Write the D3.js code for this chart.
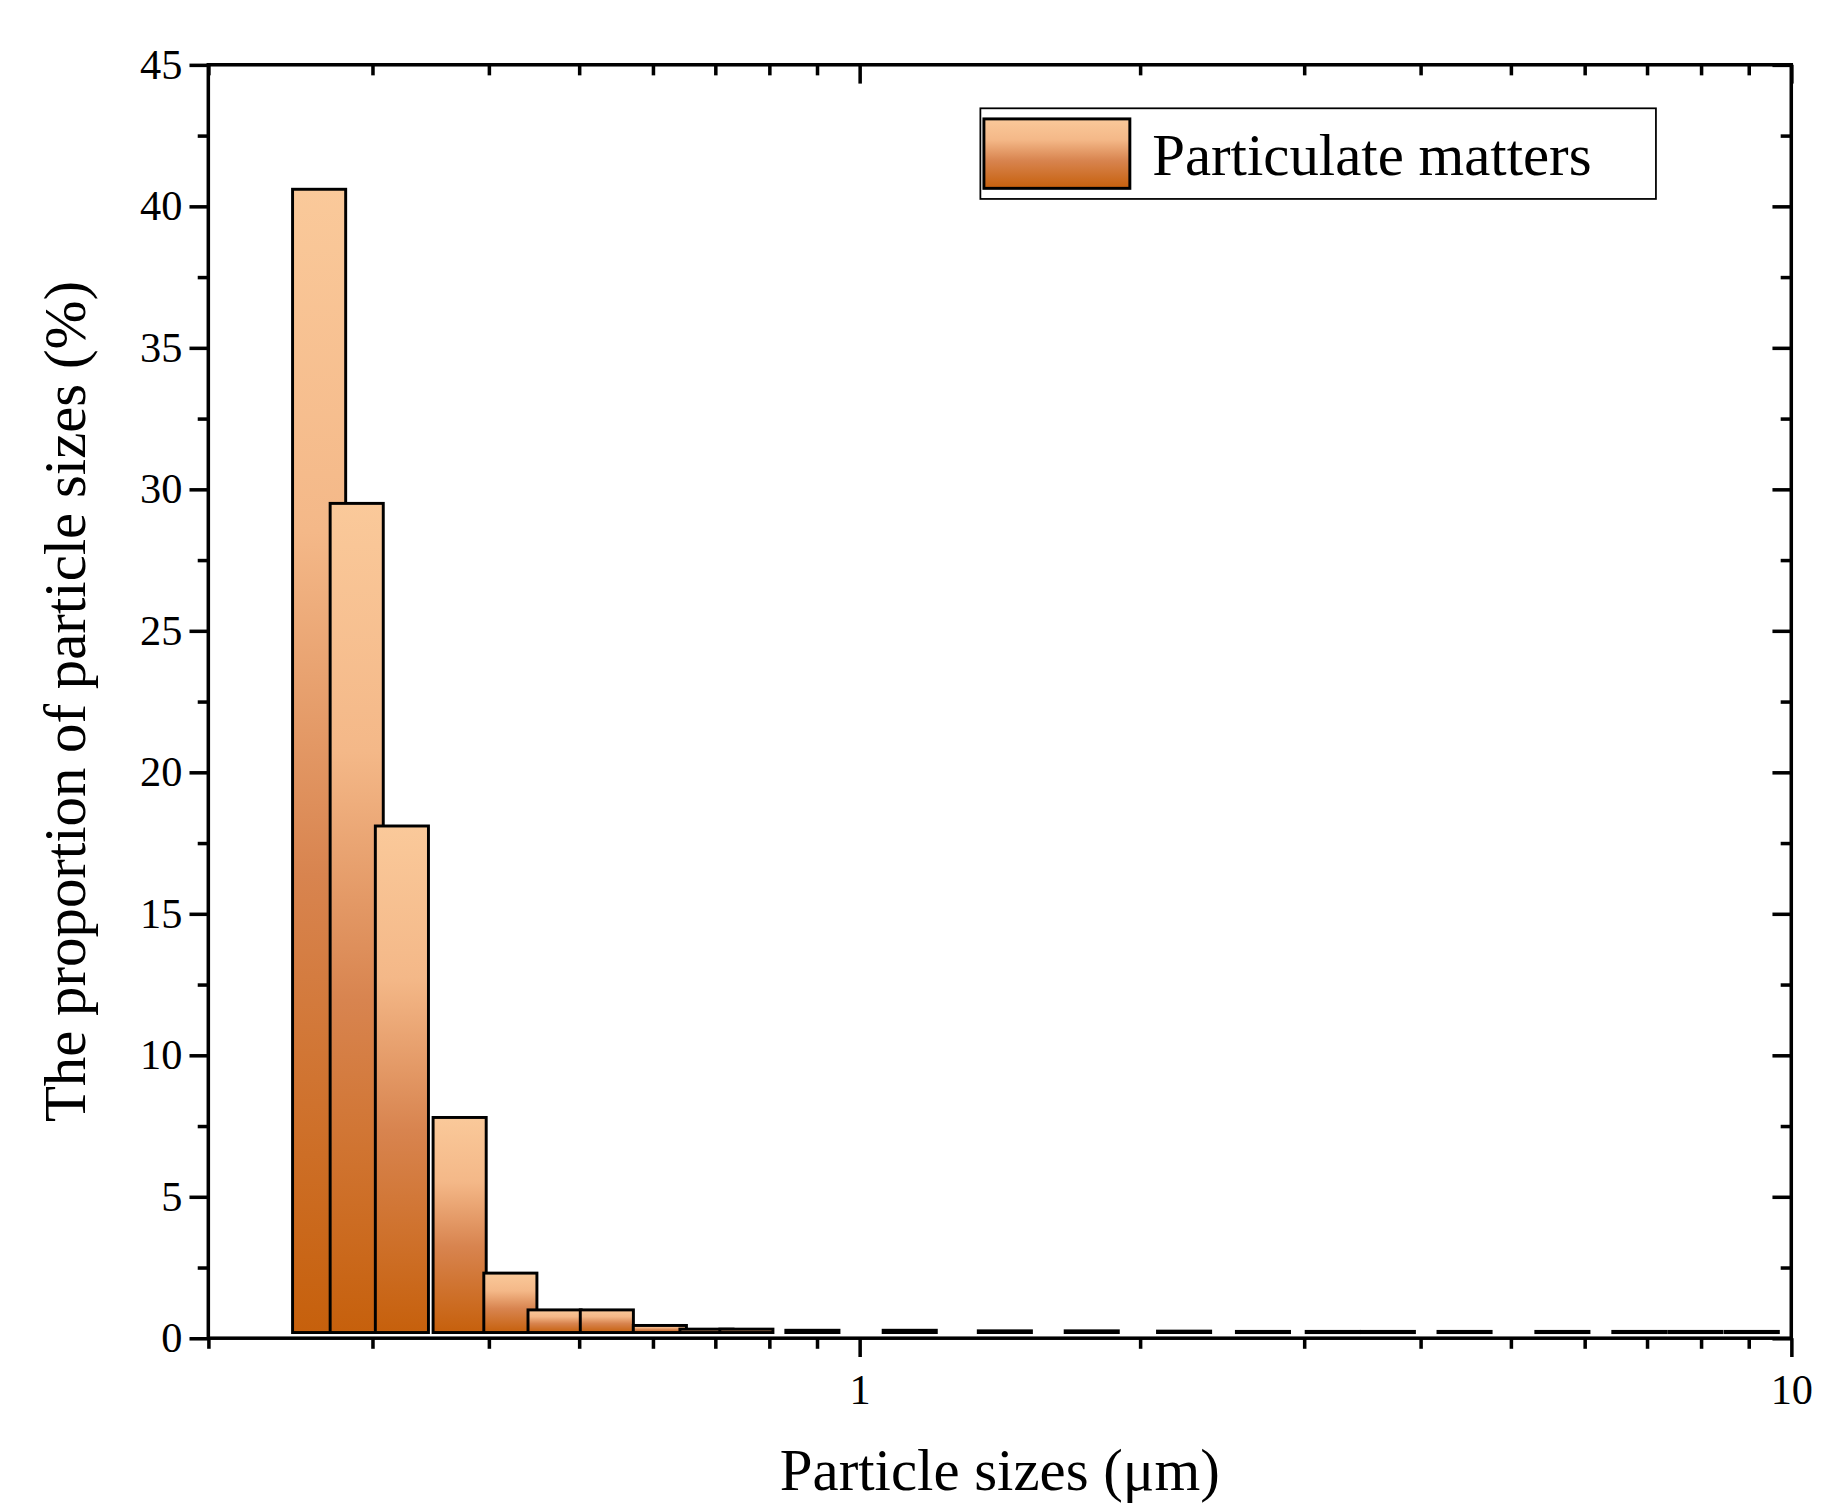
<!DOCTYPE html>
<html><head><meta charset="utf-8">
<script src="https://cdn.jsdelivr.net/npm/d3@7"></script>
<style>body{margin:0;background:#fff}svg{display:block}</style>
</head><body>
<svg id="c" width="1836" height="1503" viewBox="0 0 1560 1277"></svg>
<script>
const sizes = [0.263,0.2886,0.3227,0.3722,0.4219,0.4706,0.5355,0.6105,0.685,0.756,0.890,1.132,1.432,1.775,2.23,2.71,3.22,3.69,4.46,5.68,6.87,7.89,9.07];
const values = [40.4,29.3,17.9,7.6,2.1,0.8,0.8,0.25,0.12,0.12,0.08,0.08,0.06,0.06,0.05,0.04,0.04,0.04,0.04,0.04,0.04,0.04,0.04];
const yTicks = [0,5,10,15,20,25,30,35,40,45];
const xTicks = [1,10];
const seriesName = "Particulate matters";

const svg = d3.select("#c");
const L=177,R=1522,T=55,B=1137;
const x = d3.scaleLog().domain([0.2,10]).range([L,R]);
const y = d3.scaleLinear().domain([0,45]).range([B,T]);
const base = 0.2, halfW = 0.0285;
const defs = svg.append("defs");
const g = defs.append("linearGradient").attr("id","gr").attr("x1",0).attr("y1",0).attr("x2",0).attr("y2",1);
g.append("stop").attr("offset","0%").attr("stop-color","#fac99a");
g.append("stop").attr("offset","30%").attr("stop-color","#f4b888");
g.append("stop").attr("offset","60%").attr("stop-color","#d8844f");
g.append("stop").attr("offset","100%").attr("stop-color","#c6600c");

svg.append("g").selectAll("rect").data(sizes).join("rect")
  .attr("x",d=>x(d*Math.pow(10,-halfW)))
  .attr("width",d=>x(d*Math.pow(10,halfW))-x(d*Math.pow(10,-halfW)))
  .attr("y",(d,i)=>y(values[i]+base))
  .attr("height",(d,i)=>Math.max(1,y(base)-y(values[i]+base)))
  .attr("fill","url(#gr)").attr("stroke","#000").attr("stroke-width",2.5);

const font="'Liberation Serif','Times New Roman',serif";
// frame
svg.append("rect").attr("x",L).attr("y",T).attr("width",R-L).attr("height",B-T).attr("fill","none").attr("stroke","#000").attr("stroke-width",3);
const minorX = [0.2,0.3,0.4,0.5,0.6,0.7,0.8,0.9,2,3,4,5,6,7,8,9];
function styleAxis(sel){sel.select(".domain").remove();sel.selectAll("line").attr("stroke","#000").attr("stroke-width",3);sel.selectAll("text").attr("font-family",font).attr("font-size",36).attr("fill","#000");}
// bottom
svg.append("g").attr("transform",`translate(0,${B})`).call(d3.axisBottom(x).tickValues(xTicks).tickFormat(d3.format("d")).tickSize(16).tickPadding(14)).call(styleAxis);
svg.append("g").attr("transform",`translate(0,${B})`).call(d3.axisBottom(x).tickValues(minorX).tickFormat("").tickSize(9)).call(styleAxis);
// top
svg.append("g").attr("transform",`translate(0,${T})`).call(d3.axisBottom(x).tickValues(xTicks).tickFormat("").tickSize(16)).call(styleAxis);
svg.append("g").attr("transform",`translate(0,${T})`).call(d3.axisBottom(x).tickValues(minorX).tickFormat("").tickSize(9)).call(styleAxis);
// left
const minorY = d3.range(2.5,45,5);
svg.append("g").attr("transform",`translate(${L},0)`).call(d3.axisLeft(y).tickValues(yTicks).tickSize(16).tickPadding(6)).call(styleAxis);
svg.append("g").attr("transform",`translate(${L},0)`).call(d3.axisLeft(y).tickValues(minorY).tickFormat("").tickSize(9)).call(styleAxis);
// right
svg.append("g").attr("transform",`translate(${R},0)`).call(d3.axisLeft(y).tickValues(yTicks).tickFormat("").tickSize(16)).call(styleAxis);
svg.append("g").attr("transform",`translate(${R},0)`).call(d3.axisLeft(y).tickValues(minorY).tickFormat("").tickSize(9)).call(styleAxis);

svg.append("text").attr("x",(L+R)/2).attr("y",1266).attr("text-anchor","middle").attr("font-family",font).attr("font-size",50).text("Particle sizes (μm)");
svg.append("text").attr("transform","translate(72,596) rotate(-90)").attr("text-anchor","middle").attr("font-family",font).attr("font-size",50).text("The proportion of particle sizes (%)");

// legend
svg.append("rect").attr("x",833).attr("y",92).attr("width",574).attr("height",77).attr("fill","#fff").attr("stroke","#000").attr("stroke-width",1.5);
svg.append("rect").attr("x",836).attr("y",101).attr("width",124).attr("height",59).attr("fill","url(#gr)").attr("stroke","#000").attr("stroke-width",2.5);
svg.append("text").attr("x",979).attr("y",149).attr("font-family",font).attr("font-size",50).text(seriesName);
</script>
</body></html>
